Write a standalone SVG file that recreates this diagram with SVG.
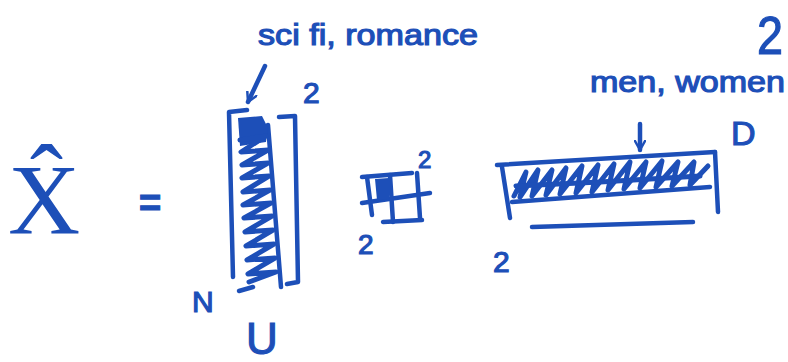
<svg xmlns="http://www.w3.org/2000/svg" width="788" height="362" viewBox="0 0 788 362">
<style>
.s{fill:none;stroke:#1d4fb8;stroke-width:4.5;stroke-linecap:round;stroke-linejoin:round}
.h{fill:none;stroke:#1d4fb8;stroke-width:5;stroke-linecap:round;stroke-linejoin:round}
.f{fill:#1d4fb8}
.t{fill:#1d4fb8;stroke:#1d4fb8;stroke-width:1.2;font-family:"Liberation Sans",sans-serif}
.tr{fill:#1d4fb8;font-family:"Liberation Serif",serif}
</style>
<defs>
<marker id="arr" viewBox="0 0 12 12" refX="10" refY="6" markerWidth="12" markerHeight="12" markerUnits="userSpaceOnUse" orient="auto">
<path d="M1,1 L10,6 L1,11" fill="none" stroke="#1d4fb8" stroke-width="2.5" stroke-linecap="round" stroke-linejoin="round"/>
</marker>
</defs>
<rect width="788" height="362" fill="#ffffff"/>

<g id="xhat">
<text class="tr" x="8" y="233" font-size="100">X̂</text>
</g>

<g id="equals">
<text class="t" x="139" y="216" font-size="38" font-weight="bold">=</text>
</g>

<g id="matrixU">
<path class="s" d="M247,110 L229,112 L233,277"/>
<path class="s" d="M239,291 L253,287"/>
<path class="s" d="M268,125 L281,287"/>
<path class="s" d="M279,117 L295,116 L298,282 L287,284"/>
<path class="f" d="M238,118 L262,116 L268,128 L266,142 L240,146 Z"/>
<path class="h" d="M240,140 L266,136 L241,152 L268,150 L242,165 L268,163 L242,178 L269,176 L243,192 L270,190 L243,205 L271,203 L244,218 L272,216 L245,232 L273,230 L246,246 L274,244 L247,260 L275,258 L248,274 L276,272 L249,282"/>
<text class="t" x="303" y="103" font-size="30">2</text>
<text class="t" x="192" y="312" font-size="30">N</text>
<text class="t" x="246" y="354" font-size="44">U</text>
</g>

<g id="matrixS">
<path class="s" d="M362,177 L412,173"/>
<path class="s" d="M367,177 L372,215"/>
<path class="s" d="M362,203 L430,193"/>
<path class="s" d="M390,175 L393,222"/>
<path class="s" d="M417,173 L420,218"/>
<path class="s" d="M383,222 L422,220"/>
<path class="f" d="M375,179 L389,178 L389,199 L377,200 Z"/>
<text class="t" x="418" y="168" font-size="24">2</text>
<text class="t" x="358" y="254" font-size="28">2</text>
</g>

<g id="matrixV">
<path class="s" d="M497,165 L715,152"/>
<path class="s" d="M502,167 L510,218"/>
<path class="s" d="M715,152 L718,212"/>
<path class="s" d="M512,202 L710,187"/>
<path class="s" d="M532,227 L693,222"/>
<path class="h" d="M514,196 L526,172 L520,197 L538,170 L532,196 L552,170 L546,195 L566,168 L560,194 L582,166 L576,193 L598,165 L592,192 L614,164 L608,190 L630,162 L624,189 L646,162 L640,188 L662,161 L656,187 L678,162 L672,186 L694,162 L690,185 L708,166"/>
<path class="h" d="M516,186 L600,182 L700,176"/>
<text class="t" x="493" y="272" font-size="30">2</text>
<text class="t" x="731" y="145" font-size="34">D</text>
</g>

<g id="labels">
<text class="t" x="258" y="45" font-size="30" textLength="220" lengthAdjust="spacingAndGlyphs">sci fi, romance</text>
<text class="t" x="590" y="92" font-size="30" textLength="195" lengthAdjust="spacingAndGlyphs">men, women</text>
<text class="t" x="757" y="54" font-size="54" textLength="26" lengthAdjust="spacingAndGlyphs">2</text>
</g>

<g id="connectors">
<path class="s" d="M265,66 L248,102" marker-end="url(#arr)"/>
<path class="s" d="M640,124 L640,150" marker-end="url(#arr)"/>
</g>
</svg>
